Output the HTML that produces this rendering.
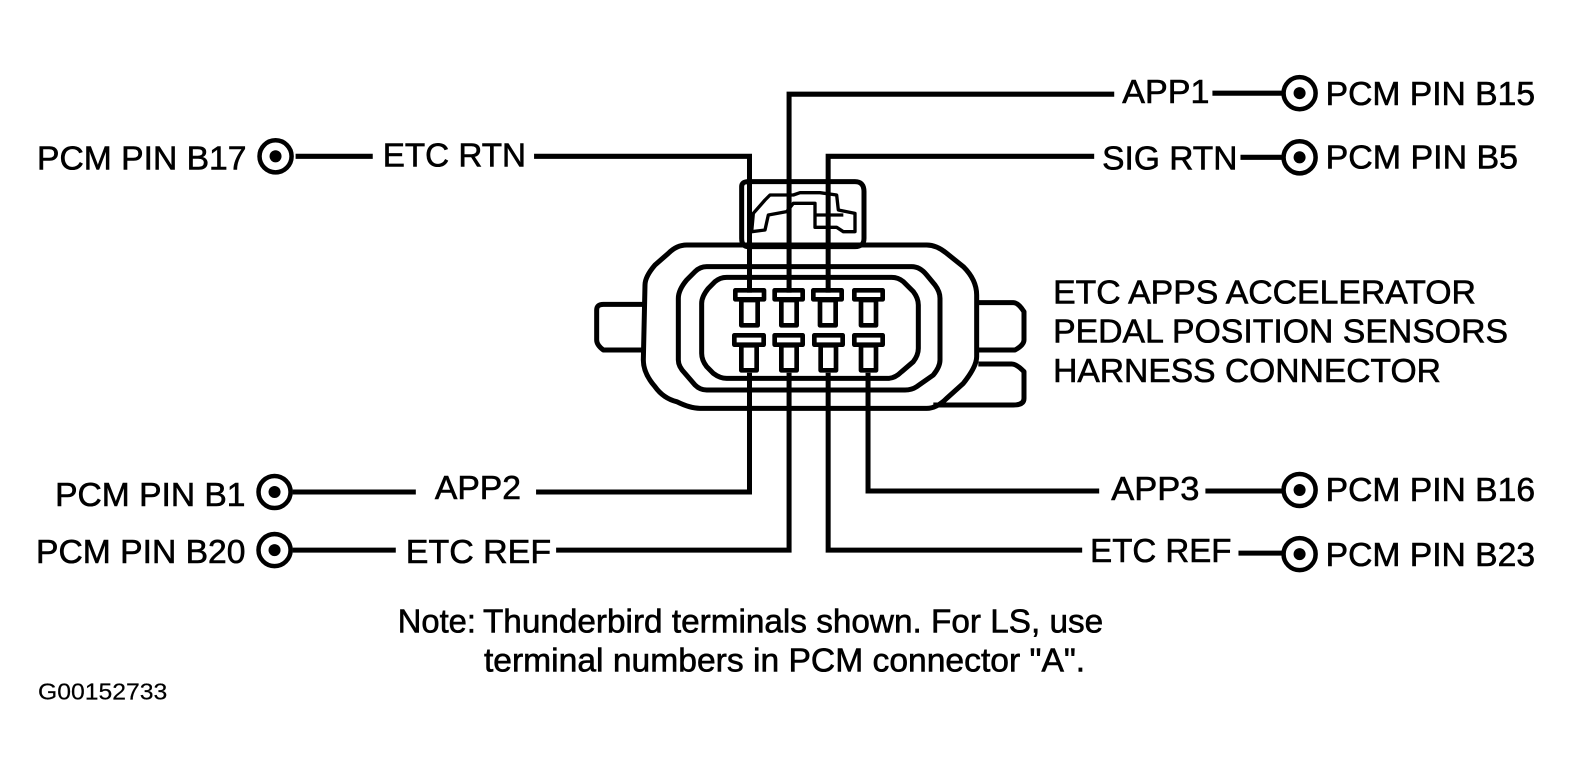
<!DOCTYPE html>
<html><head><meta charset="utf-8"><style>
html,body{margin:0;padding:0;background:#fff}
svg{display:block}
text{font-family:"Liberation Sans",sans-serif;fill:#000;stroke:#000;stroke-width:.6px}
</style></head><body>
<svg width="1571" height="776" viewBox="0 0 1571 776" xmlns="http://www.w3.org/2000/svg">
<rect width="1571" height="776" fill="#fff"/>
<g transform="translate(580,170) scale(.33333)" fill="none" stroke="#000" stroke-width="15" stroke-linejoin="round">
<path d="M485 50Q485 35 505 35H825Q852 35 852 65V205Q852 230 825 230H505Q485 230 485 205Z"/>
<path d="M195 345Q195 320 225 285L265 250Q290 225 320 225H1040Q1070 225 1100 250L1150 290Q1190 330 1190 375V560Q1190 590 1150 640L1100 685Q1070 715 1040 715H360Q330 715 290 695Q250 685 225 650Q190 610 190 570Z"/>
<path d="M295 385Q295 360 320 330L345 305Q360 290 380 290H995Q1020 290 1040 315L1065 345Q1080 365 1080 385V570Q1080 590 1060 615L1010 650Q995 660 975 660H380Q360 660 345 645L315 610Q295 590 295 570Z"/>
<path d="M365 400Q365 380 385 355L405 335Q420 322 440 322H935Q955 322 970 335L1000 365Q1015 385 1015 405V535Q1015 555 1000 575L965 605Q945 625 925 625H440Q420 625 400 610L380 590Q365 570 365 550Z"/>
<path d="M190 403H70Q50 403 50 420V510Q50 525 70 540H190"/>
<path d="M1195 398H1300Q1315 398 1332 425V510Q1332 525 1305 540H1195"/>
<path d="M1195 582H1295Q1310 582 1332 605V685Q1332 705 1300 705H1060"/>
<path d="M520 130L555 90L570 75H640L660 68H720L770 75L775 120L825 130V185H790L770 172H705V100H640L620 125L565 135L555 180L515 185Z" stroke-width="10"/>
<path d="M705 135H790" stroke-width="10"/>
<g stroke-width="14">
<path d="M466 361H552V388H466Z"/><path d="M484 390H533V466H484Z"/>
<path d="M584 361H668V388H584Z"/><path d="M604 390H650V466H604Z"/>
<path d="M700 361H785V388H700Z"/><path d="M720 390H767V466H720Z"/>
<path d="M823 361H908V388H823Z"/><path d="M843 390H888V466H843Z"/>
<path d="M463 496H551V524H463Z"/><path d="M484 526H530V601H484Z"/>
<path d="M584 496H668V524H584Z"/><path d="M604 526H650V601H604Z"/>
<path d="M703 496H788V524H703Z"/><path d="M722 526H768V601H722Z"/>
<path d="M823 496H908V524H823Z"/><path d="M843 526H888V601H843Z"/>
</g>
</g>
<g transform="scale(1.002)">
<g fill="none" stroke="#000" stroke-width="5">
<path d="M295 156H372M533 156H748V292"/>
<path d="M1112 94H787.5V292M1210 93H1280"/>
<path d="M1092 156H826.5V292M1238 157H1280"/>
<path d="M292 491H415M535 491H748V372"/>
<path d="M292 549H395M555 549H787.5V372"/>
<path d="M1097 490H866.3V372M1203 490H1282"/>
<path d="M1080 549H826.5V372M1236 552H1282"/>
<g stroke-width="4.5">
<circle cx="275" cy="156" r="16"/><circle cx="274" cy="491" r="16"/><circle cx="274" cy="549" r="16"/>
<circle cx="1297" cy="93" r="16"/><circle cx="1297" cy="157" r="16"/><circle cx="1297" cy="489" r="16"/><circle cx="1297" cy="553" r="16"/>
</g>
</g>
<g fill="#000">
<circle cx="275" cy="156" r="6"/><circle cx="274" cy="491" r="6"/><circle cx="274" cy="549" r="6"/>
<circle cx="1297" cy="93" r="6"/><circle cx="1297" cy="157" r="6"/><circle cx="1297" cy="489" r="6"/><circle cx="1297" cy="553" r="6"/>
</g>
<g font-size="33">
<text x="37" y="169" textLength="209" lengthAdjust="spacingAndGlyphs">PCM PIN B17</text>
<text x="382" y="166" textLength="143" lengthAdjust="spacingAndGlyphs">ETC RTN</text>
<text x="1120" y="103" textLength="87" lengthAdjust="spacingAndGlyphs">APP1</text>
<text x="1323" y="105" textLength="209" lengthAdjust="spacingAndGlyphs">PCM PIN B15</text>
<text x="1100" y="169" textLength="135" lengthAdjust="spacingAndGlyphs">SIG RTN</text>
<text x="1323" y="168" textLength="192" lengthAdjust="spacingAndGlyphs">PCM PIN B5</text>
<text x="55" y="505" textLength="190" lengthAdjust="spacingAndGlyphs">PCM PIN B1</text>
<text x="434" y="498" textLength="86" lengthAdjust="spacingAndGlyphs">APP2</text>
<text x="36" y="562" textLength="209" lengthAdjust="spacingAndGlyphs">PCM PIN B20</text>
<text x="405" y="562" textLength="145" lengthAdjust="spacingAndGlyphs">ETC REF</text>
<text x="1109" y="499" textLength="88" lengthAdjust="spacingAndGlyphs">APP3</text>
<text x="1323" y="500" textLength="209" lengthAdjust="spacingAndGlyphs">PCM PIN B16</text>
<text x="1088" y="561" textLength="141" lengthAdjust="spacingAndGlyphs">ETC REF</text>
<text x="1323" y="565" textLength="209" lengthAdjust="spacingAndGlyphs">PCM PIN B23</text>
<text x="1051" y="303" textLength="422" lengthAdjust="spacingAndGlyphs">ETC APPS ACCELERATOR</text>
<text x="1051" y="342" textLength="454" lengthAdjust="spacingAndGlyphs">PEDAL POSITION SENSORS</text>
<text x="1051" y="381" textLength="387" lengthAdjust="spacingAndGlyphs">HARNESS CONNECTOR</text>
<text x="397" y="631" textLength="78" lengthAdjust="spacingAndGlyphs">Note:</text>
<text x="482" y="631" textLength="619" lengthAdjust="spacingAndGlyphs">Thunderbird terminals shown. For LS, use</text>
<text x="483" y="670" textLength="600" lengthAdjust="spacingAndGlyphs">terminal numbers in PCM connector "A".</text>
<text x="38" y="698" font-size="23" textLength="129" lengthAdjust="spacingAndGlyphs" style="stroke-width:0.2px">G00152733</text>
</g>
</g>
</svg>
</body></html>
